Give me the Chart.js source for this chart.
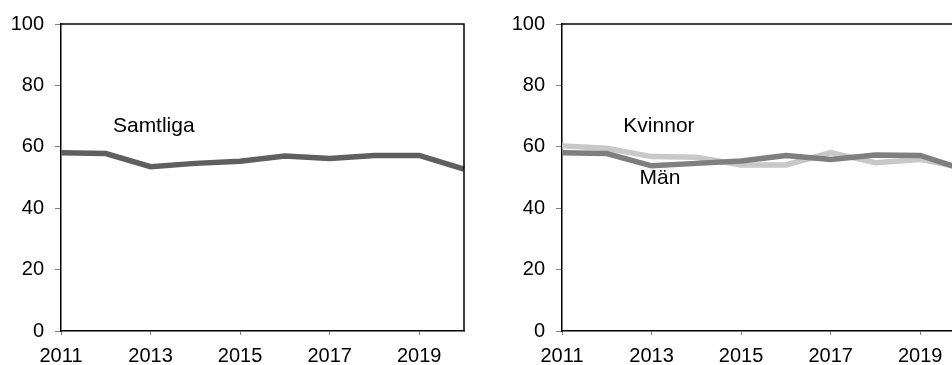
<!DOCTYPE html>
<html>
<head>
<meta charset="utf-8">
<script src="https://cdn.jsdelivr.net/npm/chart.js@4"></script>
<style>
  html, body { margin: 0; padding: 0; background: #fff; overflow: hidden; }
  body { width: 952px; height: 365px; position: relative; }
  .panel { position: absolute; top: 0; width: 480px; height: 365px; }
</style>
</head>
<body>
<div class="panel" style="left:0"><canvas id="leftChart"></canvas></div>
<div class="panel" style="left:501px"><canvas id="rightChart"></canvas></div>
<script>
const years = ['2011', '2012', '2013', '2014', '2015', '2016', '2017', '2018', '2019', '2020'];
const samtliga = [58.1, 57.8, 53.5, 54.6, 55.3, 57.0, 56.2, 57.2, 57.2, 52.7];
const man = [58.1, 57.8, 53.8, 54.6, 55.4, 57.2, 55.9, 57.3, 57.2, 52.5];
const kvinnor = [60.3, 59.5, 56.8, 56.6, 54.1, 54.1, 58.1, 54.8, 55.9, 53.0];
const yTicks = [0, 20, 40, 60, 80, 100];

const fontName = '"Liberation Sans", Arial, sans-serif';

// ram runt ritytan (topp och höger)
const framePlugin = {
    id: 'frame',
    afterDraw(chart) {
        const a = chart.chartArea;
        const ctx = chart.ctx;
        ctx.save();
        ctx.strokeStyle = '#000';
        ctx.lineWidth = 1.5;
        ctx.beginPath();
        ctx.moveTo(a.left, a.top);
        ctx.lineTo(a.right, a.top);
        ctx.lineTo(a.right, a.bottom);
        ctx.stroke();
        ctx.restore();
    }
};

// textetiketter i diagrammet
const labelPlugin = {
    id: 'labels',
    afterDatasetsDraw(chart, args, opts) {
        const ctx = chart.ctx;
        const x = chart.scales.x;
        const y = chart.scales.y;
        ctx.save();
        ctx.fillStyle = '#000';
        ctx.font = '21px ' + fontName;
        ctx.textBaseline = 'middle';
        ctx.textAlign = 'left';
        (opts.items || []).forEach(it => {
            const px = x.getPixelForValue(0) + it.at * (x.getPixelForValue(1) - x.getPixelForValue(0));
            ctx.fillText(it.text, px, y.getPixelForValue(it.value));
        });
        ctx.restore();
    }
};

function makeChart(id, datasets, labels) {
    const ctx = document.getElementById(id).getContext('2d');
    return new Chart(ctx, {
        type: 'line',
        data: { labels: years, datasets: datasets },
        options: {
            responsive: true,
            maintainAspectRatio: false,
            animation: false,
            layout: { padding: { top: 24, right: 16, left: 0, bottom: 0 } },
            elements: {
                point: { radius: 0 },
                line: { tension: 0, borderWidth: 5.5, borderJoinStyle: 'miter' }
            },
            plugins: {
                legend: { display: false },
                tooltip: { enabled: false },
                labels: { items: labels }
            },
            scales: {
                x: {
                    offset: false,
                    afterFit: s => { s.height = 34; },
                    grid: { drawOnChartArea: false, tickLength: 4, color: '#808080', lineWidth: 1 },
                    border: { color: '#000', width: 1.5 },
                    ticks: {
                        autoSkip: false,
                        maxRotation: 0,
                        padding: 9,
                        color: '#000',
                        font: { family: fontName, size: 20 },
                        callback: (v, i) => (i % 2 === 0 && i < years.length - 1) ? years[i] : null
                    }
                },
                y: {
                    min: 0,
                    max: 100,
                    afterFit: s => { s.width = 61; },
                    afterBuildTicks: s => { s.ticks = yTicks.map(v => ({ value: v })); },
                    grid: { drawOnChartArea: false, tickLength: 6, color: '#808080', lineWidth: 1 },
                    border: { color: '#000', width: 1.5 },
                    ticks: {
                        padding: 11,
                        color: '#000',
                        font: { family: fontName, size: 20 }
                    }
                }
            }
        },
        plugins: [framePlugin, labelPlugin]
    });
}

makeChart('leftChart', [
    { label: 'Samtliga', data: samtliga, borderColor: '#5f5f5f' }
], [
    { text: 'Samtliga', at: 1.16, value: 66.8 }
]);

makeChart('rightChart', [
    { label: 'Män', data: man, borderColor: '#7f7f7f' },
    { label: 'Kvinnor', data: kvinnor, borderColor: '#c8c8c8' }
], [
    { text: 'Kvinnor', at: 1.37, value: 66.8 },
    { text: 'Män', at: 1.73, value: 49.8 }
]);
</script>
</body>
</html>
